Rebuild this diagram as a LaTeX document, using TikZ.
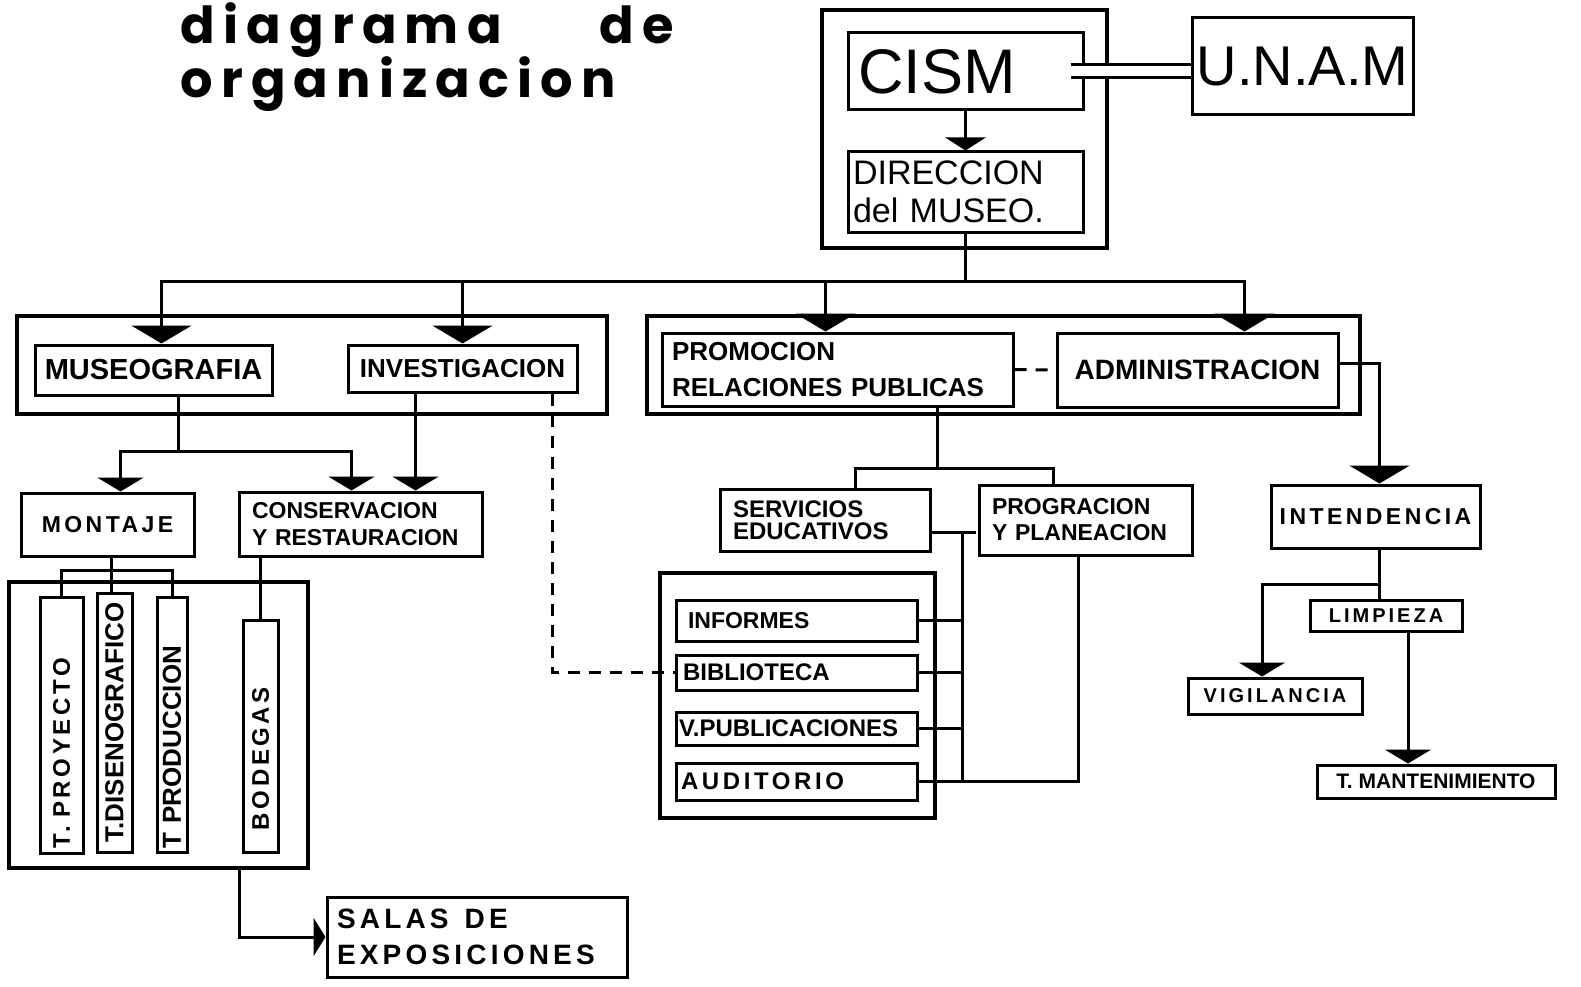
\documentclass[tikz,border=0pt]{standalone}
\usepackage{fontspec}
\setmainfont{Liberation Sans}
\newfontfamily\titlefont{Poppins}[LetterSpace=16]
\newfontfamily\widefont{Liberation Sans}[LetterSpace=15]
\usetikzlibrary{arrows.meta}
\newcommand{\fs}[2]{\fontsize{#1}{#2}\selectfont}
\tikzset{
  box/.style={draw, line width=3pt, inner sep=0pt, align=center, font=\bfseries},
  grp/.style={draw, line width=3.5pt, inner sep=0pt},
  lnk/.style={line width=3pt},
  tri/.style={lnk, -{Triangle[width=60pt,length=18pt]}},
  trim/.style={lnk, -{Triangle[width=46pt,length=14pt]}},
  tris/.style={lnk, -{Triangle[width=38pt,length=12pt]}},
  dsh/.style={lnk, dash pattern=on 12pt off 9pt},
}
\begin{document}
\begin{tikzpicture}[x=1pt,y=-1pt]
\useasboundingbox[fill=white] (0,0) rectangle (1581,987);
\node[anchor=base west, font=\titlefont\bfseries\fs{51}{56}] (tit1) at (177,44) {diagrama\hspace{98pt}de};
\node[anchor=base west, font=\titlefont\bfseries\fs{51}{56}] (tit2) at (177,98) {organizacion};
% direccion
\node[grp, minimum width=285pt, minimum height=238pt] (cgrp) at (964.5,129) {};
\node[box, align=left, inner xsep=10pt, text width=215pt, minimum height=77pt, font=\fs{63}{66}] (cism) at (965.5,71.5) {CISM};
\node[box, minimum width=221pt, minimum height=97pt, font=\fs{56}{60}] (unam) at (1302.5,66.5) {U.N.A.M};
\node[box, align=left, inner xsep=5pt, text width=225pt, minimum height=80pt, font=\fs{34}{38}] (dir) at (965.5,192) {DIRECCION\\del MUSEO.};
\draw[lnk, double distance=10pt] ([xshift=-14pt]cism.east) -- (cism.east -| unam.west);
\draw[lnk, -{Triangle[width=40pt,length=13pt]}] (cism) -- (dir);
% primer nivel
\node[grp, minimum width=590pt, minimum height=98pt] (lgrp) at (312,365) {};
\node[grp, minimum width=713pt, minimum height=98pt] (rgrp) at (1003.5,365) {};
\node[box, minimum width=237pt, minimum height=50pt, font=\bfseries\fs{29}{32}] (mus) at (153.5,370) {MUSEOGRAFIA};
\node[box, minimum width=229pt, minimum height=47pt, font=\bfseries\fs{26}{30}] (inv) at (462.5,368.5) {INVESTIGACION};
\node[box, align=left, inner xsep=10pt, text width=331pt, minimum height=73pt, font=\bfseries\fs{26}{36}] (prom) at (837.5,369.5) {PROMOCION\\RELACIONES PUBLICAS};
\node[box, minimum width=281pt, minimum height=74pt, font=\bfseries\fs{28}{32}] (adm) at (1197.5,370) {ADMINISTRACION};
\draw[lnk] (dir.south) -- ++(0,48) coordinate (b0);
\draw[tri] (b0) -| ([xshift=8pt]mus.north);
\draw[tri] (b0) -| (inv.north);
\draw[tri] (b0) -| ([xshift=-12pt]prom.north);
\draw[tri] (b0) -| ([xshift=47pt]adm.north);
\draw[dsh] (prom.east) -- (adm.west);
% museografia
\node[box, minimum width=173pt, minimum height=63pt, font=\widefont\bfseries\fs{23}{26}] (mont) at (107.5,524.5) {MONTAJE};
\node[box, align=left, inner xsep=13pt, text width=217pt, minimum height=64pt, font=\bfseries\fs{23}{27}] (cons) at (360.5,524) {CONSERVACION\\Y RESTAURACION};
\draw[lnk] ([xshift=25pt]mus.south) -- ++(0,55) coordinate (m0);
\draw[trim] (m0) -| ([xshift=13pt]mont.north);
\draw[trim] (m0) -| ([xshift=-9pt]cons.north);
\draw[trim] ([xshift=-47pt]inv.south) -- ([xshift=-47pt]inv.south |- cons.north);
\node[grp, minimum width=299pt, minimum height=286pt] (mgrp) at (158.5,725) {};
\node[box, rotate=90, align=left, inner xsep=5pt, text width=246pt, minimum height=43pt, font=\widefont\bfseries\fs{24}{26}] (tp) at (61.5,725) {T. PROYECTO};
\node[box, rotate=90, minimum width=259pt, minimum height=35pt, font=\bfseries\fs{26}{28}] (td) at (114.5,722.5) {T.DISENOGRAFICO};
\node[box, rotate=90, align=left, inner xsep=4pt, text width=247pt, minimum height=30pt, font=\bfseries\fs{26}{28}] (tpr) at (172,724.5) {T PRODUCCION};
\node[box, rotate=90, align=left, inner xsep=22pt, text width=188pt, minimum height=35pt, font=\widefont\bfseries\fs{24}{26}] (bod) at (260.5,736) {BODEGAS};
\draw[lnk] ([xshift=4pt]mont.south) -- ++(0,13) coordinate (m1);
\draw[lnk] (m1) -| (tp.east);
\draw[lnk] (m1) -| (tpr.east);
\draw[lnk] (m1) -- (m1 |- td.east);
\draw[lnk] (bod.east |- cons.south) -- (bod.east);
\node[box, align=left, inner xsep=10pt, text width=280pt, minimum height=80pt, font=\widefont\bfseries\fs{28}{36}] (salas) at (477,937) {SALAS\hspace{16pt}DE\\EXPOSICIONES};
\draw[tris] ([xshift=81pt]mgrp.south) |- (salas.west);
% promocion
\node[box, align=left, inner xsep=13pt, text width=184pt, minimum height=62pt, font=\bfseries\fs{24}{22}] (serv) at (825,520) {SERVICIOS\\EDUCATIVOS};
\node[box, align=left, inner xsep=13pt, text width=187pt, minimum height=70pt, font=\bfseries\fs{23}{26}] (prog) at (1085.5,520) {PROGRACION\\Y PLANEACION};
\draw[lnk] ([xshift=100pt]prom.south) -- ++(0,61) coordinate (p0);
\draw[lnk] (p0) -| ([xshift=30pt]serv.north);
\draw[lnk] (p0) -| ([xshift=-32pt]prog.north);
\node[grp, minimum width=275pt, minimum height=245pt] (pgrp) at (797.5,695.5) {};
\node[box, align=left, inner xsep=12pt, text width=217pt, minimum height=41pt, font=\bfseries\fs{23}{26}] (inf) at (796.5,620.5) {INFORMES};
\node[box, align=left, inner xsep=7pt, text width=227pt, minimum height=35pt, font=\bfseries\fs{24}{26}] (bib) at (796.5,672.5) {BIBLIOTECA};
\node[box, align=left, inner xsep=3pt, text width=235pt, minimum height=33pt, font=\bfseries\fs{24}{26}] (vpub) at (796.5,728.5) {V.PUBLICACIONES};
\node[box, align=left, inner xsep=5pt, text width=231pt, minimum height=37pt, font=\widefont\bfseries\fs{24}{26}] (aud) at (796.5,781.5) {AUDITORIO};
\coordinate (colP) at (962,0);
\draw[lnk] ([yshift=-12pt]serv.east) -- ++(44,0);
\draw[lnk] ([yshift=-12pt]serv.east -| colP) -- (aud.east -| colP);
\foreach \n in {inf,bib,vpub} \draw[lnk] (\n.east) -- (\n.east -| colP);
\draw[lnk] (aud.east) -| ([xshift=-7pt]prog.south);
\draw[dsh] ([xshift=90pt]inv.south) |- (bib.west);
% administracion
\node[box, minimum width=209pt, minimum height=63pt, font=\widefont\bfseries\fs{23}{26}] (int) at (1375.5,516.5) {INTENDENCIA};
\node[box, minimum width=152pt, minimum height=31pt, font=\widefont\bfseries\fs{20}{22}] (limp) at (1386,615.5) {LIMPIEZA};
\node[box, minimum width=174pt, minimum height=36pt, font=\widefont\bfseries\fs{20}{22}] (vig) at (1275,696) {VIGILANCIA};
\node[box, minimum width=238pt, minimum height=33pt, font=\bfseries\fs{21}{24}] (mant) at (1436,781.5) {T. MANTENIMIENTO};
\draw[tri] ([yshift=7pt]adm.east) -| ([xshift=4pt]int.north);
\draw[lnk] ([xshift=4pt]int.south) -- ++(0,35) coordinate (i0);
\draw[trim] (i0) -| ([xshift=-13pt]vig.north);
\draw[lnk] (i0) -- (i0 |- limp.north);
\draw[trim] ([xshift=22pt]limp.south) -- ([xshift=22pt]limp.south |- mant.north);
\end{tikzpicture}
\end{document}
